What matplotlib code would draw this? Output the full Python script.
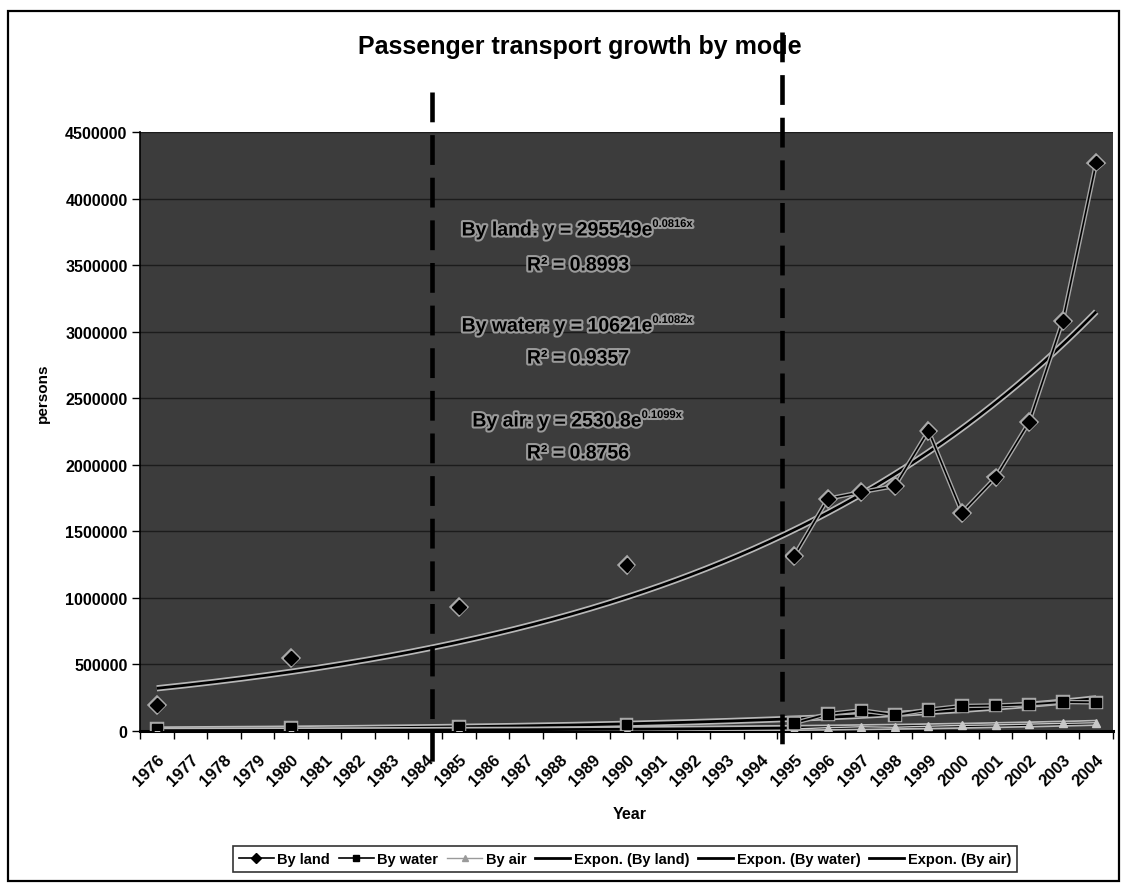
import numpy as np
import matplotlib
matplotlib.use("Agg")
import matplotlib.pyplot as plt
import matplotlib.patheffects as pe
from matplotlib.lines import Line2D
from matplotlib.patches import Rectangle

plt.rcParams['font.family'] = ['Liberation Sans', 'DejaVu Sans']

# ---------------- data ----------------
categories = list(range(1976, 2005))
obs_years = [1976, 1980, 1985, 1990, 1995, 1996, 1997, 1998, 1999, 2000, 2001, 2002, 2003, 2004]
by_land = [198000, 548000, 934000, 1247000, 1315000, 1745000, 1795000, 1840000, 2255000,
           1640000, 1905000, 2320000, 3080000, 4270000]
by_water = [15000, 20000, 32000, 48000, 60000, 128000, 155000, 120000, 160000,
            188000, 192000, 200000, 218000, 215000]
by_air = [1500, 2500, 4000, 6500, 15000, 25000, 32000, 28000, 36000,
          42000, 46000, 52000, 57000, 62000]
# fitted exponential trends shown on the chart (x = category index, 1976 -> 1)
trend_land = (295549, 0.0816, 0.8993)
trend_water = (10621, 0.1082, 0.9357)
trend_air = (2530.8, 0.1099, 0.8756)
y_ticks = [0, 500000, 1000000, 1500000, 2000000, 2500000, 3000000, 3500000, 4000000, 4500000]

# ---------------- figure ----------------
W, H = 1125, 887
fig = plt.figure(figsize=(W / 100, H / 100), dpi=100)
fig.patch.set_facecolor('white')

def fx(px):
    return px / W

def fy(py):
    return 1 - py / H

AX_L, AX_R, AX_T, AX_B = 140, 1113, 133, 732
ax = fig.add_axes([fx(AX_L), fy(AX_B), fx(AX_R) - fx(AX_L), fy(AX_T) - fy(AX_B)])
ax.set_facecolor('#3c3c3c')

def ax_frac(px, py):
    return ((px - AX_L) / (AX_R - AX_L), (AX_B - py) / (AX_B - AX_T))

cat_x = np.array(categories, dtype=float)
full = {y: i for i, y in enumerate(categories)}

def expand(vals):
    arr = np.full(len(categories), np.nan)
    for yr, v in zip(obs_years, vals):
        arr[full[yr]] = v
    return arr

land_full = expand(by_land)
water_full = expand(by_water)
air_full = expand(by_air)

halo = [pe.Stroke(linewidth=4.5, foreground='#b8b8b8'), pe.Normal()]
halo_thin = [pe.Stroke(linewidth=3.2, foreground='#a8a8a8'), pe.Normal()]

# gridlines
ax.set_ylim(0, 4500000)
ax.set_xlim(categories[0] - 0.5, categories[-1] + 0.5)
ax.set_yticks(y_ticks)
ax.yaxis.grid(True, color='#1c1c1c', lw=1.0)
ax.set_axisbelow(True)

# trend curves
xs = np.linspace(categories[0], categories[-1], 300)
idx = xs - (categories[0] - 1)
for (a, b, r2) in (trend_land, trend_water, trend_air):
    ax.plot(xs, a * np.exp(b * idx), color='black', lw=2.0, zorder=3,
            path_effects=halo, solid_capstyle='butt')

# series
ax.plot(cat_x, air_full, color='#c8c8c8', lw=1.0, marker='^', ms=6,
        mfc='#c8c8c8', mec='#c8c8c8', zorder=4)
ax.plot(cat_x, water_full, color='black', lw=1.3, marker='s', ms=7,
        mfc='black', mec='black', zorder=5, path_effects=halo_thin)
ax.plot(cat_x, land_full, color='black', lw=1.2, marker='D', ms=7,
        mfc='black', mec='black', zorder=6, path_effects=halo_thin)

# axes styling
for s in ('top', 'right'):
    ax.spines[s].set_visible(False)
ax.spines['left'].set_color('black')
ax.spines['left'].set_linewidth(1.2)
ax.spines['bottom'].set_color('black')
ax.spines['bottom'].set_linewidth(2.2)

ax.set_yticklabels([str(v) for v in y_ticks], fontsize=11.5, fontweight='bold')
ax.tick_params(axis='y', direction='out', length=6, width=1, pad=3)

ax.set_xticks(cat_x)
ax.set_xticklabels([str(c) for c in categories], rotation=45, ha='right', va='top',
                   rotation_mode='anchor', fontsize=12, fontweight='bold')
ax.tick_params(axis='x', which='major', length=0, pad=15)
ax.set_xticks(np.arange(categories[0] - 0.5, categories[-1] + 1.0, 1.0), minor=True)
ax.tick_params(axis='x', which='minor', direction='out', length=6, width=1)

ax.set_ylabel('persons', fontsize=11, fontweight='bold')
ax.yaxis.set_label_coords(*ax_frac(50, 393))
ax.set_xlabel('Year', fontsize=11.5, fontweight='bold')
ax.xaxis.set_label_coords(*ax_frac(630, 807))

# title
fig.text(fx(580), fy(47), 'Passenger transport growth by mode', ha='center', va='center',
         fontsize=18, fontweight='bold', zorder=1)

# dashed period separators
ax.plot([1984.2, 1984.2], [4800000, -248000], color='black', lw=3.3, dashes=(6.5, 2.8),
        clip_on=False, zorder=10)
ax.plot([1994.62, 1994.62], [5250000, -98000], color='black', lw=3.3, dashes=(6.5, 2.8),
        clip_on=False, zorder=10)

# trend equations
txt_fx = [pe.withStroke(linewidth=3, foreground='#9a9a9a')]
eq_rows = [
    ('By land: y = %de' % trend_land[0], '%.4fx' % trend_land[1], trend_land[2], 232, 267),
    ('By water: y = %de' % trend_water[0], '%.4fx' % trend_water[1], trend_water[2], 328, 360),
    ('By air: y = %.1fe' % trend_air[0], '%.4fx' % trend_air[1], trend_air[2], 423, 455),
]
for main, sup, r2, y1, y2 in eq_rows:
    t = fig.text(fx(557), fy(y1), main, ha='center', va='center', fontsize=14,
                 fontweight='bold', color='black', path_effects=txt_fx, zorder=8)
    ax.annotate(sup, xy=(1.0, 0.62), xycoords=t, ha='left', va='bottom',
                fontsize=8, fontweight='bold', color='black',
                path_effects=txt_fx, annotation_clip=False)
    fig.text(fx(578), fy(y2), 'R\u00b2 = %.4f' % r2, ha='center', va='center', fontsize=14,
             fontweight='bold', color='black', path_effects=txt_fx, zorder=8)

# legend
handles = [
    Line2D([], [], color='black', lw=1.2, marker='D', ms=5, mfc='black', mec='black'),
    Line2D([], [], color='black', lw=1.2, marker='s', ms=5, mfc='black', mec='black'),
    Line2D([], [], color='#9a9a9a', lw=1.0, marker='^', ms=5, mfc='#9a9a9a', mec='#9a9a9a'),
    Line2D([], [], color='black', lw=2.0),
    Line2D([], [], color='black', lw=2.0),
    Line2D([], [], color='black', lw=2.0),
]
labels = ['By land', 'By water', 'By air', 'Expon. (By land)', 'Expon. (By water)', 'Expon. (By air)']
leg = fig.legend(handles, labels, loc='center', bbox_to_anchor=(fx(625), fy(860)), ncol=6,
                 frameon=True, fancybox=False, edgecolor='black',
                 prop={'weight': 'bold', 'size': 10.5}, handlelength=2.4, handletextpad=0.25,
                 columnspacing=0.6, borderpad=0.4, borderaxespad=0)
leg.get_frame().set_linewidth(1.2)

# outer chart border
fig.patches.append(Rectangle((fx(8), fy(882)), fx(1119) - fx(8), fy(12) - fy(882),
                             transform=fig.transFigure, fill=False, edgecolor='black',
                             lw=1.6, zorder=0))

fig.savefig('out.png', dpi=100)
